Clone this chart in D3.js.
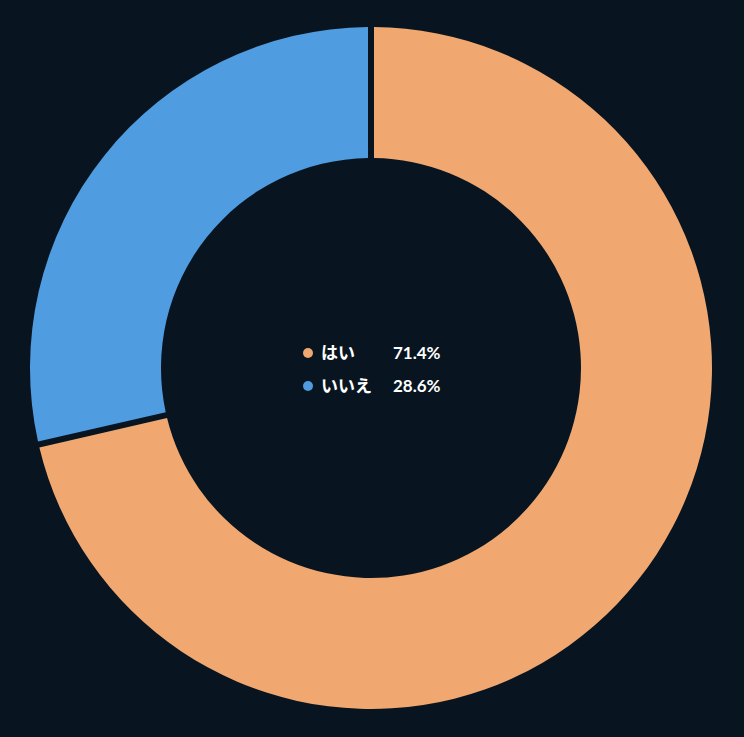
<!DOCTYPE html>
<html>
<head>
<meta charset="utf-8">
<script src="https://cdn.jsdelivr.net/npm/d3@7"></script>
<style>
  html, body { margin: 0; padding: 0; background: #081520; }
  svg { display: block; }
</style>
</head>
<body>
<div id="chart"></div>
<script>
// data
var labels = ["はい", "いいえ"];
var values = [71.4, 28.6];
var colors = ["#F0A770", "#4F9DE0"];

var width = 744, height = 737;
var cx = 371, cy = 368;
var outerR = 341, innerR = 210;

var svg = d3.select("#chart")
  .append("svg")
  .attr("width", width)
  .attr("height", height);

svg.append("rect")
  .attr("width", width)
  .attr("height", height)
  .attr("fill", "#081520");

var g = svg.append("g")
  .attr("transform", `translate(${cx},${cy})`);

var pie = d3.pie().sort(null).value(d => d);
var arc = d3.arc()
  .innerRadius(innerR)
  .outerRadius(outerR)
  .padAngle(6 / outerR)
  .padRadius(outerR);

var color = d3.scaleOrdinal().domain(labels).range(colors);

g.selectAll("path")
  .data(pie(values))
  .join("path")
  .attr("d", arc)
  .attr("fill", (d, i) => color(labels[i]));

// legend in the middle
var legend = g.append("g")
  .attr("font-family", "Lato, 'Noto Sans CJK JP', sans-serif")
  .attr("font-weight", "bold")
  .attr("font-size", 17)
  .attr("fill", "#ffffff");

var rows = legend.selectAll("g")
  .data(labels)
  .join("g")
  .attr("transform", (d, i) => `translate(0, ${-15 + i * 33})`);

rows.append("circle")
  .attr("cx", -63)
  .attr("cy", 0)
  .attr("r", 5)
  .attr("fill", d => color(d));

rows.append("text")
  .attr("x", -50)
  .attr("dy", "0.35em")
  .text(d => d);

rows.append("text")
  .attr("x", 22)
  .attr("dy", "0.35em")
  .text((d, i) => values[i].toFixed(1) + "%");
</script>
</body>
</html>
